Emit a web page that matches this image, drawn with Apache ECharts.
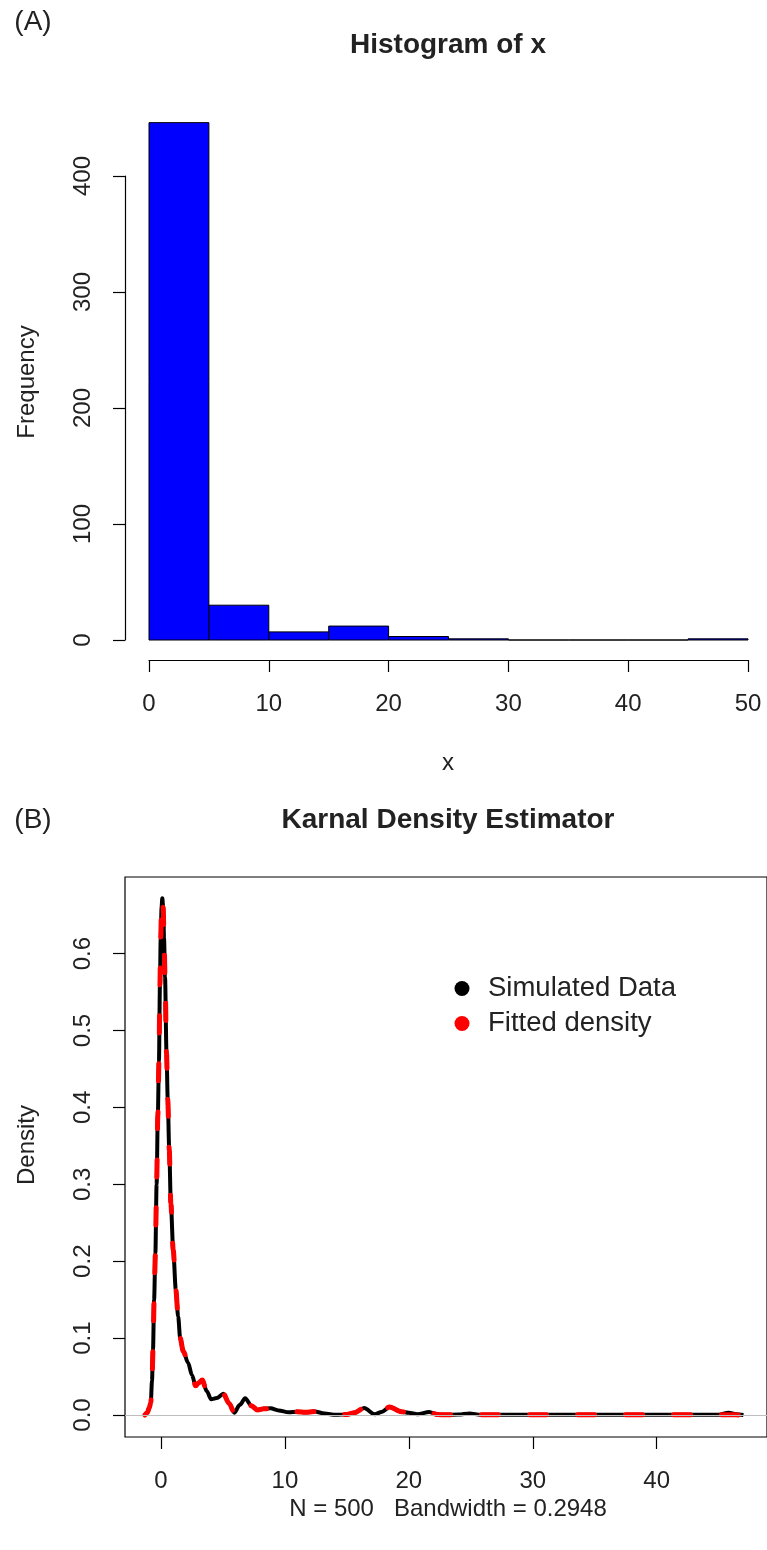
<!DOCTYPE html>
<html>
<head>
<meta charset="utf-8">
<script src="https://cdn.jsdelivr.net/npm/echarts@6/dist/echarts.min.js"></script>
<style>
html,body{margin:0;padding:0;background:#fff;}
#chart{width:767px;height:1550px;}
</style>
</head>
<body>
<div id="chart"></div>
<script>
// ---------- Data ----------
const binStarts = [0, 5, 10, 15, 20, 25, 30, 35, 40, 45];
const binEnds   = [5, 10, 15, 20, 25, 30, 35, 40, 45, 50];
const binCounts = [446, 30, 7, 12, 3, 1, 0, 0, 0, 1];
const histXTicks = [0, 10, 20, 30, 40, 50];
const histYTicks = [0, 100, 200, 300, 400];

const densityX = [-1.3, -1.1, -0.95, -0.82, -0.72, -0.64, -0.55, -0.45, -0.35, -0.25, -0.16, -0.08, -0.02, 0.05, 0.11, 0.18, 0.25, 0.33, 0.45, 0.55, 0.67, 0.8, 0.99, 1.2, 1.39, 1.55, 1.8, 2.19, 2.5, 2.8, 3.05, 3.33, 3.7, 4.05, 4.5, 5.04, 5.5, 5.92, 6.35, 6.8, 7.3, 7.79, 8.3, 8.85, 9.5, 10.3, 11.0, 11.65, 12.4, 13.2, 14.1, 15.0, 15.6, 16.4, 17.25, 17.8, 18.45, 19.4, 20.0, 20.7, 21.65, 22.3, 23.0, 24.0, 24.9, 25.8, 27.0, 30.0, 35.0, 40.0, 45.0, 45.8, 46.4, 47.0];
const simulatedY = [0, 0.003, 0.009, 0.016, 0.045, 0.085, 0.15, 0.21, 0.30, 0.39, 0.46, 0.56, 0.62, 0.66, 0.672, 0.66, 0.62, 0.57, 0.47, 0.41, 0.345, 0.275, 0.215, 0.163, 0.128, 0.10, 0.083, 0.068, 0.052, 0.038, 0.042, 0.0455, 0.031, 0.0204, 0.022, 0.0275, 0.015, 0.003, 0.013, 0.0217, 0.012, 0.0065, 0.008, 0.0087, 0.006, 0.0035, 0.0043, 0.0035, 0.0045, 0.002, 0.0002, 0.0008, 0.003, 0.009, 0.001, 0.004, 0.0105, 0.0043, 0.003, 0.001, 0.004, 0.0005, 0.0003, 0.0005, 0.002, 0.0003, 0.0003, 0.0003, 0.0003, 0.0003, 0.0003, 0.003, 0.001, 0];
const fittedY    = [0, 0.003, 0.009, 0.016, 0.045, 0.085, 0.15, 0.21, 0.30, 0.39, 0.46, 0.56, 0.62, 0.66, 0.672, 0.66, 0.62, 0.57, 0.47, 0.41, 0.345, 0.275, 0.215, 0.163, 0.128, 0.10, 0.083, 0.068, 0.052, 0.038, 0.042, 0.0455, 0.031, 0.0204, 0.022, 0.0275, 0.015, 0.003, 0.013, 0.0217, 0.012, 0.0065, 0.008, 0.0087, 0.006, 0.0035, 0.0043, 0.0035, 0.0045, 0.002, 0.0002, 0.0008, 0.003, 0.009, 0.001, 0.004, 0.0105, 0.0043, 0.003, 0.001, 0.004, 0.0005, 0.0003, 0.0005, 0.002, 0.0003, 0.0003, 0.0003, 0.0003, 0.0003, 0.0003, 0.0003, 0.0002, 0];
const densXTicks = [0, 10, 20, 30, 40];
const densYTicks = [0, 0.1, 0.2, 0.3, 0.4, 0.5, 0.6];

// ---------- Build ----------
const FONT = "'Liberation Sans', Arial, Helvetica, sans-serif";
const TXT = '#222';
const histData = binStarts.map((s, i) => [s, binEnds[i], binCounts[i]]);
const simData = densityX.map((x, i) => [x, simulatedY[i]]);
const fitData = densityX.map((x, i) => [x, fittedY[i]]);

const chart = echarts.init(document.getElementById('chart'), null, {renderer: 'canvas'});

function txt(text, x, y, size, opts) {
  opts = opts || {};
  return {
    type: 'text', x: x, y: y, rotation: opts.rotation || 0, silent: true,
    style: {
      text: text, fontSize: size, fontFamily: FONT, fontWeight: opts.bold ? 'bold' : 'normal',
      fill: TXT, align: 'center', verticalAlign: 'middle', textAlign: 'center', textVerticalAlign: 'middle'
    }
  };
}

const axisLineStyle = {color: '#000', width: 1.2};
const labelStyle = {fontSize: 24, fontFamily: FONT, color: TXT, margin: 30};
const xLabelStyle = Object.assign({}, labelStyle, {margin: 32});

chart.setOption({
  animation: false,
  backgroundColor: '#fff',
  grid: [
    {left: 149, width: 599, top: 176, height: 464, containLabel: false},
    {left: 125, width: 647, top: 877, height: 560, show: true, borderColor: '#000', borderWidth: 1.2, backgroundColor: 'transparent', containLabel: false}
  ],
  xAxis: [
    {
      gridIndex: 0, type: 'value', min: 0, max: 50, interval: 10, offset: 20,
      axisLine: {show: true, onZero: false, lineStyle: axisLineStyle},
      axisTick: {show: true, length: 12, lineStyle: axisLineStyle},
      axisLabel: Object.assign({}, xLabelStyle, {customValues: histXTicks}),
      splitLine: {show: false}
    },
    {
      gridIndex: 1, type: 'value', min: -2.9, max: 48.9,
      axisLine: {show: false, onZero: false},
      axisTick: {show: true, length: 12, lineStyle: axisLineStyle, customValues: densXTicks},
      axisLabel: Object.assign({}, xLabelStyle, {customValues: densXTicks}),
      splitLine: {show: false}
    }
  ],
  yAxis: [
    {
      gridIndex: 0, type: 'value', min: 0, max: 400, interval: 100, offset: 24,
      axisLine: {show: true, onZero: false, lineStyle: axisLineStyle},
      axisTick: {show: true, length: 12, lineStyle: axisLineStyle},
      axisLabel: Object.assign({}, labelStyle, {rotate: 90, customValues: histYTicks}),
      splitLine: {show: false}
    },
    {
      gridIndex: 1, type: 'value', min: -0.0286, max: 0.6996,
      axisLine: {show: false, onZero: false},
      axisTick: {show: true, length: 12, lineStyle: axisLineStyle, customValues: densYTicks},
      axisLabel: Object.assign({}, labelStyle, {rotate: 90, customValues: densYTicks, formatter: v => v.toFixed(1)}),
      splitLine: {show: false}
    }
  ],
  legend: {
    orient: 'vertical', left: 449.5, top: 969.5, itemGap: 7,
    itemWidth: 15, itemHeight: 15, icon: 'circle',
    itemStyle: {borderWidth: 0},
    textStyle: {fontSize: 27.5, fontFamily: FONT, color: TXT, padding: [0, 0, 0, 13.5]},
    data: ['Simulated Data', 'Fitted density']
  },
  series: [
    {
      type: 'custom', name: 'Histogram', xAxisIndex: 0, yAxisIndex: 0, clip: false,
      data: histData, encode: {x: [0, 1], y: 2},
      renderItem: function (params, api) {
        const p0 = api.coord([api.value(0), api.value(2)]);
        const p1 = api.coord([api.value(1), 0]);
        return {
          type: 'rect',
          shape: {x: p0[0], y: p0[1], width: p1[0] - p0[0], height: p1[1] - p0[1]},
          style: {fill: '#0000ff', stroke: '#000', lineWidth: 1}
        };
      }
    },
    {
      type: 'line', name: 'Simulated Data', xAxisIndex: 1, yAxisIndex: 1,
      data: simData, showSymbol: false, symbol: 'none', smooth: 0.3, smoothMonotone: 'x',
      color: '#000', itemStyle: {color: '#000'},
      lineStyle: {color: '#000', width: 4},
      markLine: {
        silent: true, symbol: 'none', label: {show: false},
        lineStyle: {color: '#bebebe', width: 1, type: 'solid'},
        data: [{yAxis: 0}]
      },
      z: 2
    },
    {
      type: 'line', name: 'Fitted density', xAxisIndex: 1, yAxisIndex: 1,
      data: fitData, showSymbol: false, symbol: 'none', smooth: 0.3, smoothMonotone: 'x',
      color: '#ff0000', itemStyle: {color: '#ff0000'},
      lineStyle: {color: '#ff0000', width: 5, type: [17, 31], cap: 'round'},
      z: 3
    }
  ],
  graphic: [
    txt('(A)', 33, 22, 28),
    txt('Histogram of x', 448, 45, 28, {bold: true}),
    txt('x', 448, 763, 24),
    txt('Frequency', 27, 382, 24, {rotation: Math.PI / 2}),
    txt('(B)', 33, 820, 28),
    txt('Karnal Density Estimator', 448, 820, 28, {bold: true}),
    txt('N = 500   Bandwidth = 0.2948', 448, 1509, 24),
    txt('Density', 27, 1145, 24, {rotation: Math.PI / 2})
  ]
});
</script>
</body>
</html>
